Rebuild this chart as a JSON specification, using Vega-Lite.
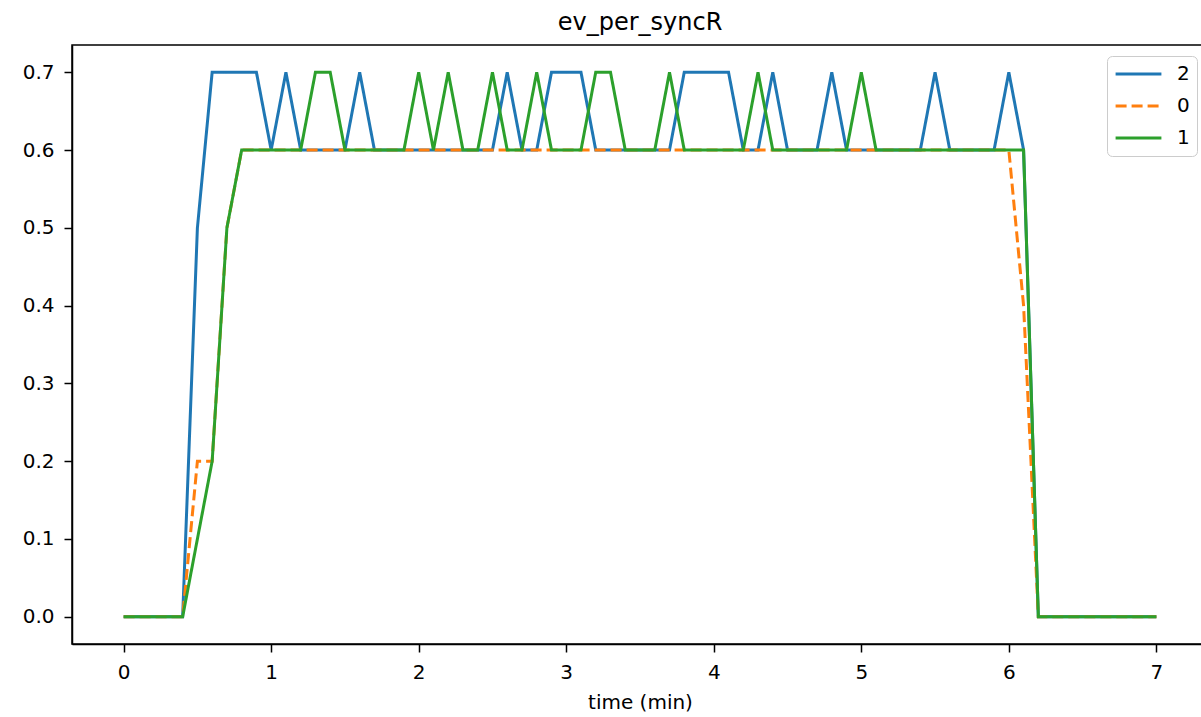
{
"$schema":"https://vega.github.io/schema/vega-lite/v6.json",
"width":1136,"height":599,
"autosize":{"type":"none"},
"padding":{"left":72,"top":45,"right":1,"bottom":73},
"background":"white",
"title":{"text":"ev_per_syncR","fontSize":24,"font":"DejaVu Sans","fontWeight":"normal","offset":10,"color":"black"},
"config":{
 "font":"DejaVu Sans",
 "view":{"stroke":"black","strokeWidth":1.5},
 "axis":{"grid":false,"domainColor":"black","domainWidth":1.5,"tickColor":"black","tickWidth":1.5,"tickSize":8,"labelFontSize":20,"labelColor":"black","labelFont":"DejaVu Sans","titleFont":"DejaVu Sans","titleFontSize":20,"titleFontWeight":"normal","titleColor":"black","labelPadding":10}
},
"data":{"values":[
{"t":0,"s":"2","v":0},{"t":0.1,"s":"2","v":0},{"t":0.2,"s":"2","v":0},{"t":0.3,"s":"2","v":0},{"t":0.4,"s":"2","v":0},{"t":0.5,"s":"2","v":0.5},{"t":0.6,"s":"2","v":0.7},{"t":0.7,"s":"2","v":0.7},{"t":0.8,"s":"2","v":0.7},{"t":0.9,"s":"2","v":0.7},
{"t":1,"s":"2","v":0.6},{"t":1.1,"s":"2","v":0.7},{"t":1.2,"s":"2","v":0.6},{"t":1.3,"s":"2","v":0.6},{"t":1.4,"s":"2","v":0.6},{"t":1.5,"s":"2","v":0.6},{"t":1.6,"s":"2","v":0.7},{"t":1.7,"s":"2","v":0.6},{"t":1.8,"s":"2","v":0.6},{"t":1.9,"s":"2","v":0.6},
{"t":2,"s":"2","v":0.6},{"t":2.1,"s":"2","v":0.6},{"t":2.2,"s":"2","v":0.6},{"t":2.3,"s":"2","v":0.6},{"t":2.4,"s":"2","v":0.6},{"t":2.5,"s":"2","v":0.6},{"t":2.6,"s":"2","v":0.7},{"t":2.7,"s":"2","v":0.6},{"t":2.8,"s":"2","v":0.6},{"t":2.9,"s":"2","v":0.7},
{"t":3,"s":"2","v":0.7},{"t":3.1,"s":"2","v":0.7},{"t":3.2,"s":"2","v":0.6},{"t":3.3,"s":"2","v":0.6},{"t":3.4,"s":"2","v":0.6},{"t":3.5,"s":"2","v":0.6},{"t":3.6,"s":"2","v":0.6},{"t":3.7,"s":"2","v":0.6},{"t":3.8,"s":"2","v":0.7},{"t":3.9,"s":"2","v":0.7},
{"t":4,"s":"2","v":0.7},{"t":4.1,"s":"2","v":0.7},{"t":4.2,"s":"2","v":0.6},{"t":4.3,"s":"2","v":0.6},{"t":4.4,"s":"2","v":0.7},{"t":4.5,"s":"2","v":0.6},{"t":4.6,"s":"2","v":0.6},{"t":4.7,"s":"2","v":0.6},{"t":4.8,"s":"2","v":0.7},{"t":4.9,"s":"2","v":0.6},
{"t":5,"s":"2","v":0.6},{"t":5.1,"s":"2","v":0.6},{"t":5.2,"s":"2","v":0.6},{"t":5.3,"s":"2","v":0.6},{"t":5.4,"s":"2","v":0.6},{"t":5.5,"s":"2","v":0.7},{"t":5.6,"s":"2","v":0.6},{"t":5.7,"s":"2","v":0.6},{"t":5.8,"s":"2","v":0.6},{"t":5.9,"s":"2","v":0.6},
{"t":6,"s":"2","v":0.7},{"t":6.1,"s":"2","v":0.6},{"t":6.2,"s":"2","v":0},{"t":6.3,"s":"2","v":0},{"t":6.4,"s":"2","v":0},{"t":6.5,"s":"2","v":0},{"t":6.6,"s":"2","v":0},{"t":6.7,"s":"2","v":0},{"t":6.8,"s":"2","v":0},{"t":6.9,"s":"2","v":0},{"t":7,"s":"2","v":0},
{"t":0,"s":"0","v":0},{"t":0.1,"s":"0","v":0},{"t":0.2,"s":"0","v":0},{"t":0.3,"s":"0","v":0},{"t":0.4,"s":"0","v":0},{"t":0.5,"s":"0","v":0.2},{"t":0.6,"s":"0","v":0.2},{"t":0.7,"s":"0","v":0.5},{"t":0.8,"s":"0","v":0.6},{"t":0.9,"s":"0","v":0.6},
{"t":1,"s":"0","v":0.6},{"t":1.1,"s":"0","v":0.6},{"t":1.2,"s":"0","v":0.6},{"t":1.3,"s":"0","v":0.6},{"t":1.4,"s":"0","v":0.6},{"t":1.5,"s":"0","v":0.6},{"t":1.6,"s":"0","v":0.6},{"t":1.7,"s":"0","v":0.6},{"t":1.8,"s":"0","v":0.6},{"t":1.9,"s":"0","v":0.6},
{"t":2,"s":"0","v":0.6},{"t":2.1,"s":"0","v":0.6},{"t":2.2,"s":"0","v":0.6},{"t":2.3,"s":"0","v":0.6},{"t":2.4,"s":"0","v":0.6},{"t":2.5,"s":"0","v":0.6},{"t":2.6,"s":"0","v":0.6},{"t":2.7,"s":"0","v":0.6},{"t":2.8,"s":"0","v":0.6},{"t":2.9,"s":"0","v":0.6},
{"t":3,"s":"0","v":0.6},{"t":3.1,"s":"0","v":0.6},{"t":3.2,"s":"0","v":0.6},{"t":3.3,"s":"0","v":0.6},{"t":3.4,"s":"0","v":0.6},{"t":3.5,"s":"0","v":0.6},{"t":3.6,"s":"0","v":0.6},{"t":3.7,"s":"0","v":0.6},{"t":3.8,"s":"0","v":0.6},{"t":3.9,"s":"0","v":0.6},
{"t":4,"s":"0","v":0.6},{"t":4.1,"s":"0","v":0.6},{"t":4.2,"s":"0","v":0.6},{"t":4.3,"s":"0","v":0.6},{"t":4.4,"s":"0","v":0.6},{"t":4.5,"s":"0","v":0.6},{"t":4.6,"s":"0","v":0.6},{"t":4.7,"s":"0","v":0.6},{"t":4.8,"s":"0","v":0.6},{"t":4.9,"s":"0","v":0.6},
{"t":5,"s":"0","v":0.6},{"t":5.1,"s":"0","v":0.6},{"t":5.2,"s":"0","v":0.6},{"t":5.3,"s":"0","v":0.6},{"t":5.4,"s":"0","v":0.6},{"t":5.5,"s":"0","v":0.6},{"t":5.6,"s":"0","v":0.6},{"t":5.7,"s":"0","v":0.6},{"t":5.8,"s":"0","v":0.6},{"t":5.9,"s":"0","v":0.6},
{"t":6,"s":"0","v":0.6},{"t":6.1,"s":"0","v":0.4},{"t":6.2,"s":"0","v":0},{"t":6.3,"s":"0","v":0},{"t":6.4,"s":"0","v":0},{"t":6.5,"s":"0","v":0},{"t":6.6,"s":"0","v":0},{"t":6.7,"s":"0","v":0},{"t":6.8,"s":"0","v":0},{"t":6.9,"s":"0","v":0},{"t":7,"s":"0","v":0},
{"t":0,"s":"1","v":0},{"t":0.1,"s":"1","v":0},{"t":0.2,"s":"1","v":0},{"t":0.3,"s":"1","v":0},{"t":0.4,"s":"1","v":0},{"t":0.5,"s":"1","v":0.1},{"t":0.6,"s":"1","v":0.2},{"t":0.7,"s":"1","v":0.5},{"t":0.8,"s":"1","v":0.6},{"t":0.9,"s":"1","v":0.6},
{"t":1,"s":"1","v":0.6},{"t":1.1,"s":"1","v":0.6},{"t":1.2,"s":"1","v":0.6},{"t":1.3,"s":"1","v":0.7},{"t":1.4,"s":"1","v":0.7},{"t":1.5,"s":"1","v":0.6},{"t":1.6,"s":"1","v":0.6},{"t":1.7,"s":"1","v":0.6},{"t":1.8,"s":"1","v":0.6},{"t":1.9,"s":"1","v":0.6},
{"t":2,"s":"1","v":0.7},{"t":2.1,"s":"1","v":0.6},{"t":2.2,"s":"1","v":0.7},{"t":2.3,"s":"1","v":0.6},{"t":2.4,"s":"1","v":0.6},{"t":2.5,"s":"1","v":0.7},{"t":2.6,"s":"1","v":0.6},{"t":2.7,"s":"1","v":0.6},{"t":2.8,"s":"1","v":0.7},{"t":2.9,"s":"1","v":0.6},
{"t":3,"s":"1","v":0.6},{"t":3.1,"s":"1","v":0.6},{"t":3.2,"s":"1","v":0.7},{"t":3.3,"s":"1","v":0.7},{"t":3.4,"s":"1","v":0.6},{"t":3.5,"s":"1","v":0.6},{"t":3.6,"s":"1","v":0.6},{"t":3.7,"s":"1","v":0.7},{"t":3.8,"s":"1","v":0.6},{"t":3.9,"s":"1","v":0.6},
{"t":4,"s":"1","v":0.6},{"t":4.1,"s":"1","v":0.6},{"t":4.2,"s":"1","v":0.6},{"t":4.3,"s":"1","v":0.7},{"t":4.4,"s":"1","v":0.6},{"t":4.5,"s":"1","v":0.6},{"t":4.6,"s":"1","v":0.6},{"t":4.7,"s":"1","v":0.6},{"t":4.8,"s":"1","v":0.6},{"t":4.9,"s":"1","v":0.6},
{"t":5,"s":"1","v":0.7},{"t":5.1,"s":"1","v":0.6},{"t":5.2,"s":"1","v":0.6},{"t":5.3,"s":"1","v":0.6},{"t":5.4,"s":"1","v":0.6},{"t":5.5,"s":"1","v":0.6},{"t":5.6,"s":"1","v":0.6},{"t":5.7,"s":"1","v":0.6},{"t":5.8,"s":"1","v":0.6},{"t":5.9,"s":"1","v":0.6},
{"t":6,"s":"1","v":0.6},{"t":6.1,"s":"1","v":0.6},{"t":6.2,"s":"1","v":0},{"t":6.3,"s":"1","v":0},{"t":6.4,"s":"1","v":0},{"t":6.5,"s":"1","v":0},{"t":6.6,"s":"1","v":0},{"t":6.7,"s":"1","v":0},{"t":6.8,"s":"1","v":0},{"t":6.9,"s":"1","v":0},{"t":7,"s":"1","v":0}
]},
"encoding":{
 "x":{"field":"t","type":"quantitative","scale":{"domain":[-0.35,7.35],"nice":false,"zero":false},"axis":{"values":[0,1,2,3,4,5,6,7],"format":"d","title":"time (min)","titlePadding":10}},
 "y":{"field":"v","type":"quantitative","scale":{"domain":[-0.035,0.735],"nice":false,"zero":false},"axis":{"values":[0,0.1,0.2,0.3,0.4,0.5,0.6,0.7],"format":".1f","title":null}},
 "color":{"field":"s","type":"nominal","scale":{"domain":["2","0","1"],"range":["#1f77b4","#ff7f0e","#2ca02c"]},
   "legend":{"title":null,"orient":"none","legendX":1035,"legendY":11,"fillColor":"rgba(255,255,255,0.8)","strokeColor":"#cccccc","cornerRadius":5,"padding":7,"symbolType":"stroke","symbolSize":2100,"symbolStrokeWidth":3,"labelFontSize":20,"labelColor":"black","labelOffset":14,"rowPadding":10,"clipHeight":22}},
 "strokeDash":{"field":"s","type":"nominal","scale":{"domain":["2","0","1"],"range":[[1,0],[11,5],[1,0]]},
   "legend":{"title":null,"orient":"none","legendX":1035,"legendY":11,"fillColor":"rgba(255,255,255,0.8)","strokeColor":"#cccccc","cornerRadius":5,"padding":7,"symbolType":"stroke","symbolSize":2100,"symbolStrokeWidth":3,"labelFontSize":20,"labelColor":"black","labelOffset":14,"rowPadding":10,"clipHeight":22}}
},
"layer":[
 {"transform":[{"filter":"datum.s === '2'"}],"mark":{"type":"line","strokeWidth":3}},
 {"transform":[{"filter":"datum.s === '0'"}],"mark":{"type":"line","strokeWidth":3}},
 {"transform":[{"filter":"datum.s === '1'"}],"mark":{"type":"line","strokeWidth":3}}
]
}
